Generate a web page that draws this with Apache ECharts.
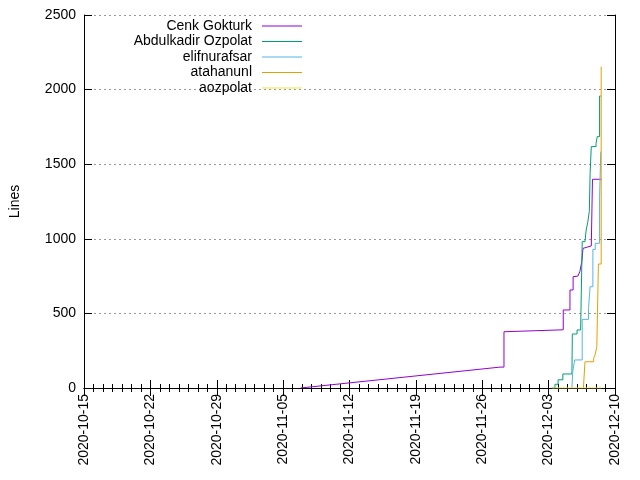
<!DOCTYPE html>
<html>
<head>
<meta charset="utf-8">
<script src="https://cdn.jsdelivr.net/npm/echarts@6/dist/echarts.min.js"></script>
<style>html,body{margin:0;padding:0;background:#fff}#main{width:640px;height:480px}</style>
</head>
<body>
<div id="main"></div>
<script>
// Cenk's history is drawn point to point (it rises smoothly, then steps)
const cenk = [
  ['2020-11-06T20:00', 0], ['2020-11-27T21:00', 140], ['2020-11-28T07:00', 140],
  ['2020-11-28T07:00', 377], ['2020-12-04T13:00', 390], ['2020-12-04T13:00', 523], ['2020-12-05T06:00', 523],
  ['2020-12-05T06:00', 657], ['2020-12-05T14:00', 657], ['2020-12-05T14:00', 746], ['2020-12-06T02:00', 750],
  ['2020-12-06T07:00', 780], ['2020-12-06T12:00', 847], ['2020-12-06T15:00', 936], ['2020-12-07T12:00', 952],
  ['2020-12-07T15:00', 952], ['2020-12-07T15:00', 1399], ['2020-12-08T14:00', 1399]
];
// the others are step data: [time, lines]
const abdulkadir = [
  ['2020-12-03T08:00', 0], ['2020-12-03T16:00', 25], ['2020-12-04T00:00', 55], ['2020-12-04T12:00', 94],
  ['2020-12-05T11:00', 94], ['2020-12-05T12:00', 362], ['2020-12-06T00:00', 389], ['2020-12-06T09:00', 395],
  ['2020-12-06T13:00', 981], ['2020-12-06T20:00', 993], ['2020-12-06T23:00', 1059], ['2020-12-07T03:00', 1110],
  ['2020-12-07T07:00', 1183], ['2020-12-07T09:00', 1439], ['2020-12-07T12:00', 1618], ['2020-12-08T00:00', 1640],
  ['2020-12-08T03:00', 1685], ['2020-12-08T09:00', 1957], ['2020-12-08T12:00', 1957]
];
const elif = [
  ['2020-12-05T11:00', 0], ['2020-12-05T13:00', 109], ['2020-12-05T18:00', 188], ['2020-12-06T13:00', 460],
  ['2020-12-07T05:00', 534], ['2020-12-07T09:00', 679], ['2020-12-07T16:00', 929], ['2020-12-07T22:00', 970],
  ['2020-12-08T09:00', 1282], ['2020-12-08T12:00', 1584], ['2020-12-08T13:00', 1584]
];
const atahan = [
  ['2020-12-06T16:00', 0], ['2020-12-06T20:00', 176], ['2020-12-07T18:00', 199], ['2020-12-07T22:00', 226],
  ['2020-12-08T02:00', 277], ['2020-12-08T06:00', 831], ['2020-12-08T13:00', 2154]
];
const aozpolat = [
  ['2020-12-03T08:00', 0], ['2020-12-08T14:00', 3]
];
const names = ['Cenk Gokturk', 'Abdulkadir Ozpolat', 'elifnurafsar', 'atahanunl', 'aozpolat'];
const colors = ['#9400d3', '#009e73', '#56b4e9', '#e69f00', '#f0e442'];
const steps = [false, 'end', 'end', 'end', 'end'];
const allData = [cenk, abdulkadir, elif, atahan, aozpolat];

const DAY = 86400000;
const xMin = Date.UTC(2020, 9, 15);
const xMax = Date.UTC(2020, 11, 10);
const toTs = s => Date.parse(s + 'Z');
const fmtDate = v => {
  const d = new Date(v);
  const p = n => String(n).padStart(2, '0');
  return d.getUTCFullYear() + '-' + p(d.getUTCMonth() + 1) + '-' + p(d.getUTCDate());
};

const chart = echarts.init(document.getElementById('main'));
const font = 'Liberation Sans, Arial, sans-serif';
const axisLine = { show: true, lineStyle: { color: '#000', width: 1 } };
const tick = { inside: true, length: 8, lineStyle: { color: '#000' } };
const minor = { show: true, splitNumber: 7, length: 4, lineStyle: { color: '#000' } };

const option = {
  animation: false,
  textStyle: { fontFamily: font },
  grid: { left: 83, right: 25, top: 15, bottom: 92 },
  legend: names.map((n, i) => ({
    data: [{ name: n, icon: 'path://M0,0 L40,0 L40,1 L0,1 Z' }],
    right: 338, top: 19 + i * 15.5, align: 'right', orient: 'vertical',
    itemWidth: 40, itemHeight: 1, itemGap: 0, padding: 0, selectedMode: false,
    textStyle: { fontSize: 14, color: '#000', fontFamily: font, padding: [0, 5, 0, 0] }
  })),
  xAxis: [{
    type: 'value', min: xMin, max: xMax, interval: 7 * DAY,
    axisLine, axisTick: tick, minorTick: minor, splitLine: { show: false },
    axisLabel: { rotate: 90, fontSize: 14, color: '#000', formatter: fmtDate, margin: 6 }
  }, {
    type: 'value', position: 'top', min: xMin, max: xMax, interval: 7 * DAY,
    axisLine, axisTick: tick, minorTick: minor, splitLine: { show: false }, axisLabel: { show: false }
  }],
  yAxis: [{
    type: 'value', min: 0, max: 2500, interval: 500,
    name: 'Lines', nameLocation: 'middle', nameGap: 62, nameRotate: 90,
    nameTextStyle: { fontSize: 14, color: '#000' },
    axisLine, axisTick: tick,
    splitLine: { show: true, lineStyle: { color: '#999', type: [2, 3] } },
    axisLabel: { fontSize: 14, color: '#000', margin: 8, formatter: v => String(v) }
  }, {
    type: 'value', position: 'right', min: 0, max: 2500, interval: 500,
    axisLine, axisTick: tick, splitLine: { show: false }, axisLabel: { show: false }
  }],
  series: names.map((n, i) => ({
    name: n, type: 'line', step: steps[i], showSymbol: false, symbol: 'none',
    color: colors[i], lineStyle: { width: 1, color: colors[i] },
    data: allData[i].map(d => [toTs(d[0]), d[1]])
  }))
};

chart.setOption(option);
</script>
</body>
</html>
